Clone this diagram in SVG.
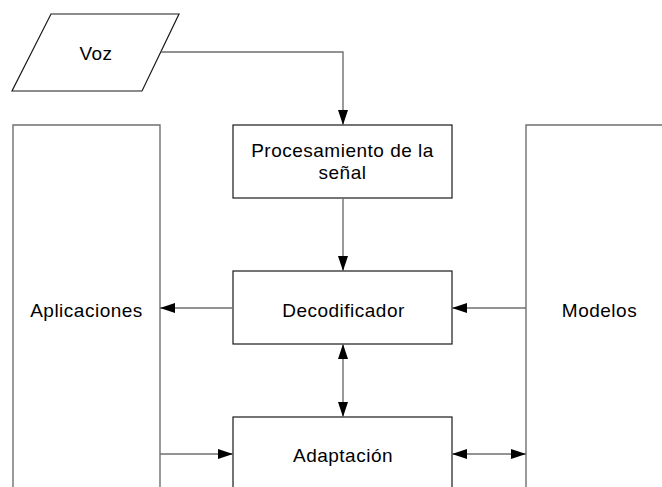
<svg xmlns="http://www.w3.org/2000/svg" width="662" height="487" viewBox="0 0 662 487">
<style>
.box{fill:#fff;stroke:#1a1a1a;stroke-width:1.2}
.side{fill:#fff;stroke:#6f6f6f;stroke-width:1.4}
.lbl{font-family:"Liberation Sans",Arial,sans-serif;font-size:19px;letter-spacing:0.5px;fill:#000;text-anchor:middle}
.con{fill:none;stroke:#6f6f6f;stroke-width:1.4}
</style>
<defs>
<marker id="arr" viewBox="0 0 15 10" refX="15" refY="5" markerWidth="15" markerHeight="10" markerUnits="userSpaceOnUse" orient="auto-start-reverse">
<path d="M0,0 L15,5 L0,10 Z" fill="#000"/>
</marker>
</defs>
<rect width="662" height="487" fill="#fff"/>
<g id="aplicaciones">
<path class="side" d="M13,487 V125 H160 V487"/>
<text class="lbl" x="86.5" y="317">Aplicaciones</text>
</g>
<g id="modelos">
<path class="side" d="M526,487 V125 H673"/>
<text class="lbl" x="599.5" y="317">Modelos</text>
</g>
<g id="voz">
<polygon class="box" points="51,14 179,14 142,91 12,91"/>
<text class="lbl" x="96" y="60">Voz</text>
</g>
<g id="procesamiento">
<rect class="box" x="233" y="125" width="219" height="73"/>
<text class="lbl" x="342.5" y="157">Procesamiento de la</text>
<text class="lbl" x="342.5" y="179">señal</text>
</g>
<g id="decodificador">
<rect class="box" x="233" y="271" width="219" height="73"/>
<text class="lbl" x="343.5" y="317">Decodificador</text>
</g>
<g id="adaptacion">
<rect class="box" x="233" y="417" width="219" height="80"/>
<text class="lbl" x="343" y="462">Adaptación</text>
</g>
<g id="connectors">
<path class="con" d="M161,52 H343 V125" marker-end="url(#arr)"/>
<path class="con" d="M343,198 V271" marker-end="url(#arr)"/>
<path class="con" d="M233,308 H160" marker-end="url(#arr)"/>
<path class="con" d="M526,308 H452" marker-end="url(#arr)"/>
<path class="con" d="M343,344 V417" marker-start="url(#arr)" marker-end="url(#arr)"/>
<path class="con" d="M160,454 H233" marker-end="url(#arr)"/>
<path class="con" d="M452,454 H526" marker-start="url(#arr)" marker-end="url(#arr)"/>
</g>
</svg>
